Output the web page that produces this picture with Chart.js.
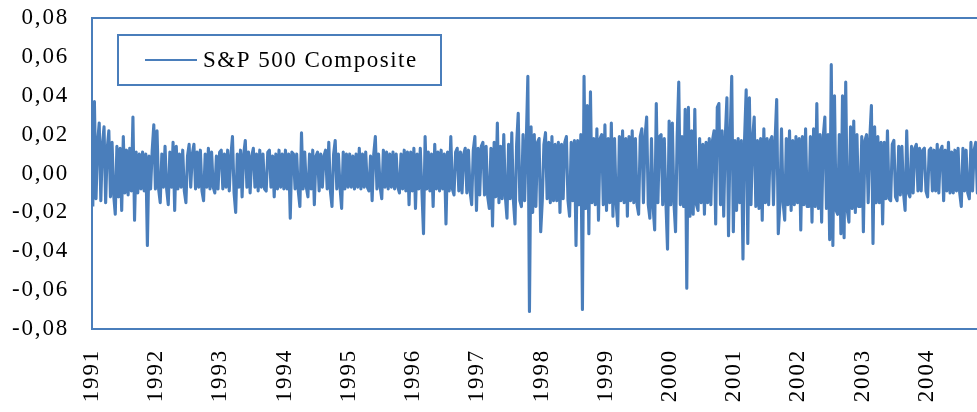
<!DOCTYPE html>
<html>
<head>
<meta charset="utf-8">
<title>S&amp;P 500 Composite</title>
<script src="https://cdn.jsdelivr.net/npm/chart.js@4.4.1/dist/chart.umd.min.js"></script>
<style>
    html, body { margin: 0; padding: 0; background: #fff; overflow: hidden; }
    #wrap { position: relative; width: 1000px; height: 412px; }
</style>
</head>
<body>
<div id="wrap"><canvas id="spChart"></canvas></div>
<script>
// daily returns in %, about 40 readings per year
const years = [1991, 1992, 1993, 1994, 1995, 1996, 1997, 1998, 1999, 2000, 2001, 2002, 2003, 2004];

const r1991 = [-1.7, 3.7, -1.3, 1.6, 2.6, -1.4, 1.5, 2.4, -1.5, 1.3, 2.2, -1.2, 1.6, -1.1, -2.1, 1.4, -1.2, 1.3, -1.9, 1.9,
    -1.0, 1.2, -1.1, 1.3, -0.9, 2.9, -2.4, 1.1, -1.0, 1.0, -0.8, 1.1, -0.9, 1.0, -3.7, 0.9, -0.8, 1.2, 2.5, -0.8];
const r1992 = [2.2, -0.8, -1.5, 1.0, -0.7, 1.4, -0.8, -1.6, 1.1, -0.7, 1.6, -1.9, 1.4, -0.8, 1.0, -0.7, 1.2, -0.9, -1.5, 0.9,
    1.5, -0.7, 1.0, 1.5, -0.8, 1.1, -0.7, 1.2, -0.9, -1.4, 1.0, -0.7, 1.3, -0.8, 1.1, -0.7, -1.0, 0.9, -0.8, 1.1];
const r1993 = [1.2, -0.8, 1.0, -0.7, 1.2, -0.9, 0.9, 1.9, -1.0, -2.0, 1.0, -0.7, 1.2, -1.2, 1.0, 1.7, -0.7, 1.1, -1.0, 0.9,
    1.3, -0.7, 1.0, -0.9, 1.2, -0.7, 1.0, -0.8, -0.9, 1.1, 1.2, -0.7, 0.9, -1.2, 1.0, -0.8, 1.2, -0.7, 1.0, -0.8];
const r1994 = [1.2, -0.8, 1.0, -2.3, 1.1, 1.0, -0.8, 1.0, -0.9, -1.7, 2.1, -0.8, 1.1, -0.7, -1.2, 1.0, -0.8, 1.2, -1.6, 0.9,
    1.1, -0.9, 1.0, -0.7, 0.9, 1.2, -0.8, 1.6, -0.9, -1.7, 1.0, 1.7, -0.8, 1.0, -0.7, -1.8, 1.1, -0.8, 1.0, -0.7];
const r1995 = [1.0, -0.7, 0.9, -0.8, 1.0, -0.7, 1.3, -0.8, 1.0, -0.7, 1.1, -0.7, -0.9, 0.9, -1.4, 1.0, 1.9, -0.8, 1.0, -0.7,
    -1.3, 1.2, -0.7, 1.1, -0.8, 1.0, -0.7, 1.1, -0.8, 1.0, -0.7, -1.0, 1.0, -0.8, 1.2, -0.9, 1.1, -1.6, 1.1, -0.9];
const r1996 = [1.3, -1.8, 1.0, -0.8, 1.3, -0.9, -3.1, 1.9, -0.8, 1.1, -0.9, 1.0, -1.7, 1.5, -0.8, 1.1, -0.9, 1.2, -0.8, 1.0,
    -2.6, 1.1, -0.9, 1.9, -0.8, -1.1, 1.1, 1.3, -0.9, 1.1, -1.0, 1.0, 1.3, -1.0, 1.2, -0.9, -1.6, 1.2, 1.9, -1.9];
const r1997 = [1.3, -1.1, 1.4, 1.6, -1.1, 1.4, -1.2, -1.8, 1.3, -2.7, 1.6, -1.2, 2.6, -1.5, 1.4, -1.3, 2.0, -1.2, -2.3, 1.5,
    -1.3, 2.1, -1.4, -2.6, 1.5, 3.1, -1.4, -1.7, 2.0, -1.4, 1.6, 5.0, -7.1, 2.4, -2.0, 2.0, -1.7, 1.6, 1.8, -3.0];
const r1998 = [-1.4, 1.5, 2.1, -1.3, 1.6, -1.5, 1.9, -1.4, 1.5, -1.4, 1.6, -2.0, 1.5, -1.3, 1.6, 1.9, -1.4, -2.2, 1.6, -1.4,
    1.7, -3.7, 1.7, -1.6, 2.0, -7.0, 5.0, -1.8, 3.5, -3.1, 4.2, -1.5, 1.8, -1.6, 2.3, -2.4, 1.8, 2.0, -1.6, 2.5];
const r1999 = [-1.9, 1.8, -1.5, 2.6, -2.2, 1.8, -1.5, -2.7, 1.9, -1.4, 2.2, -1.5, 1.8, -2.2, 1.9, -1.4, 2.2, -1.5, 1.8, -1.6,
    -2.1, 1.9, 2.3, -1.5, 1.9, 2.9, -1.6, -2.3, 1.8, -1.7, -2.9, 3.6, -1.5, 1.9, 2.0, -1.6, 1.8, -1.5, -3.9, 2.7];
const r2000 = [-1.6, 2.6, -1.5, -3.0, 1.9, 4.7, -1.6, 1.9, -1.7, 3.3, -5.9, 3.4, -2.2, 2.2, -2.1, 3.3, -1.6, -1.9, 1.8, -1.5,
    1.5, -2.1, 1.6, -1.5, 1.8, -1.6, 1.7, 2.2, -2.6, 3.4, 3.6, -1.6, 2.2, -2.2, 1.9, 3.9, -3.2, 1.9, 5.0, -3.0];
const r2001 = [1.7, -1.9, 1.8, -1.5, 1.7, -4.4, 1.8, 4.3, -3.6, 3.9, -1.6, 1.8, 2.9, -1.7, 1.7, -1.8, 1.8, -2.4, 2.3, -1.5,
    1.8, -1.6, 1.7, 1.9, -1.6, 1.7, 3.8, -3.1, -1.6, 2.3, -1.5, -2.4, 1.8, -1.6, 2.2, -1.9, 1.7, -1.6, 1.9, -1.5];
const r2002 = [1.8, -2.9, 1.9, -1.6, 2.3, -1.7, -1.7, 1.9, -2.5, 2.3, -1.7, 3.6, -1.8, 2.0, -2.5, 1.9, 2.9, -1.8, 2.0, -3.4,
    5.6, -3.7, 4.0, -1.9, -2.1, 2.0, -3.1, 4.0, -3.3, 4.7, -1.9, -2.5, 2.4, -1.8, 2.7, -2.0, 2.0, -1.7, -1.7, 1.9];
const r2003 = [-3.0, 1.7, 2.0, -1.5, 1.8, 3.5, -3.6, 2.4, -1.5, 1.9, -1.5, 1.6, -2.6, 1.6, -1.3, 2.2, -1.3, -1.4, 1.5, 1.7,
    -1.2, -1.4, 1.4, -1.1, 1.4, -1.0, -1.9, 2.2, -1.0, -1.2, 1.4, -1.0, 1.3, 1.5, -0.9, 1.3, -0.9, 1.2, 1.3, -0.9];
const r2004 = [-1.2, 1.2, 1.3, -0.9, 1.2, -0.9, 1.5, -1.0, 1.2, 1.4, -1.4, 1.2, -0.9, 1.6, -1.0, 1.1, -1.0, 1.2, -0.9, 1.3,
    -1.0, -1.7, 1.3, -0.9, 1.2, -1.0, -1.3, 1.6, -0.9, 1.2, 1.6, -1.0, 1.1, -0.9, 1.2, -0.9, 1.3, -1.0, 1.1, -0.8];

const yearSeries = [r1991, r1992, r1993, r1994, r1995, r1996, r1997, r1998, r1999, r2000, r2001, r2002, r2003, r2004];

const yTicks = [-0.08, -0.06, -0.04, -0.02, 0, 0.02, 0.04, 0.06, 0.08];

const lineBlue = "#4a7ebb";
const serif = "'Liberation Serif', 'Times New Roman', serif";

document.addEventListener("DOMContentLoaded", function () {
    const points = [];
    yearSeries.forEach((vals, k) => {
        vals.forEach((v, i) => {
            points.push({ x: years[k] + (i + 0.5) / vals.length, y: v / 100 });
        });
    });

    // the picture's serif text runs a bit wide, so space the letters out
    const spacing = {
        id: "spacing",
        beforeDraw(chart) {
            chart.ctx.letterSpacing = "1.8px";
        }
    };

    // blue frame round the plot area
    const frame = {
        id: "frame",
        afterDatasetsDraw(chart) {
            const a = chart.chartArea;
            const ctx = chart.ctx;
            ctx.save();
            ctx.strokeStyle = lineBlue;
            ctx.lineWidth = 2;
            ctx.strokeRect(a.left, a.top, a.right - a.left, a.bottom - a.top);
            ctx.restore();
        }
    };

    // boxed legend inside the plot, top left
    const boxLegend = {
        id: "boxLegend",
        afterDraw(chart) {
            const a = chart.chartArea;
            const ctx = chart.ctx;
            const ds = chart.data.datasets[0];
            const x = a.left + 26, y = a.top + 17;
            ctx.save();
            ctx.fillStyle = "#fff";
            ctx.fillRect(x, y, 323, 50);
            ctx.strokeStyle = lineBlue;
            ctx.lineWidth = 2;
            ctx.strokeRect(x, y, 323, 50);
            ctx.beginPath();
            ctx.moveTo(x + 27, y + 25);
            ctx.lineTo(x + 79, y + 25);
            ctx.stroke();
            ctx.fillStyle = "#000";
            ctx.font = "23px " + serif;
            ctx.letterSpacing = "1.5px";
            ctx.textBaseline = "middle";
            ctx.fillText(ds.label, x + 85, y + 26);
            ctx.restore();
        }
    };

    const ctx = document.getElementById("spChart").getContext("2d");
    new Chart(ctx, {
        type: "line",
        data: {
            datasets: [{
                label: "S&P 500 Composite",
                data: points,
                borderColor: lineBlue,
                borderWidth: 3.1,
                borderJoinStyle: "round",
                pointRadius: 0,
                tension: 0,
                fill: false
            }]
        },
        options: {
            responsive: true,
            maintainAspectRatio: false,
            animation: false,
            layout: { padding: { top: 18, right: 9, left: 0, bottom: 0 } },
            plugins: {
                legend: { display: false },
                tooltip: { enabled: false }
            },
            scales: {
                x: {
                    type: "linear",
                    min: 1991,
                    max: 2005,
                    grid: { display: false, drawTicks: false, tickLength: 0 },
                    border: { display: false },
                    afterBuildTicks: scale => {
                        scale.ticks = years.map(v => ({ value: v }));
                    },
                    afterFit: scale => { scale.height = 83; },
                    ticks: {
                        autoSkip: false,
                        minRotation: 90,
                        maxRotation: 90,
                        padding: 20,
                        color: "#000",
                        font: { family: serif, size: 23 },
                        callback: v => String(v)
                    }
                },
                y: {
                    min: -0.08,
                    max: 0.08,
                    grid: { display: false, drawTicks: false, tickLength: 0 },
                    border: { display: false },
                    afterBuildTicks: scale => {
                        scale.ticks = yTicks.map(v => ({ value: v }));
                    },
                    afterFit: scale => {
                        scale.width = 92;
                        scale.paddingTop = 0;
                        scale.paddingBottom = 0;
                    },
                    ticks: {
                        padding: 23,
                        color: "#000",
                        font: { family: serif, size: 23 },
                        callback: v => v.toFixed(2).replace(".", ",")
                    }
                }
            }
        },
        plugins: [spacing, frame, boxLegend]
    });
});
</script>
</body>
</html>
